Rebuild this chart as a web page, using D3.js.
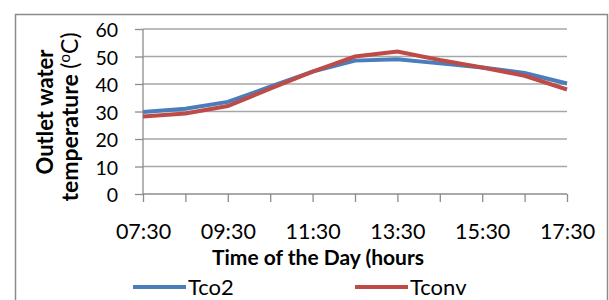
<!DOCTYPE html>
<html>
<head>
<meta charset="utf-8">
<script src="https://cdn.jsdelivr.net/npm/d3@7"></script>
<style>
  body { margin: 0; background: #fff; }
  text { font-family: Lato, 'Open Sans', sans-serif; }
</style>
</head>
<body>
<div id="chart"></div>
<script>
// hourly readings, 07:30 .. 17:30
const times = ['07:30', '08:30', '09:30', '10:30', '11:30', '12:30', '13:30', '14:30', '15:30', '16:30', '17:30']
const tco2 = [29.8, 31, 33.5, 39, 44.5, 48.5, 49, 47.5, 46, 44, 40.2]
const tconv = [28.2, 29.3, 32, 38.3, 44.5, 50, 51.8, 48.7, 46, 43, 38]
const yTicks = [0, 10, 20, 30, 40, 50, 60]
const xLabels = ['07:30', '09:30', '11:30', '13:30', '15:30', '17:30']

const width = 609, height = 300
const margin = { left: 143, right: 42, top: 29, bottom: 106 }
const font = "Lato, 'Open Sans', sans-serif"

const svg = d3.select('#chart').append('svg')
    .attr('width', width)
    .attr('height', height)

svg.append('rect')
    .attr('x', 15.5).attr('y', 14.5)
    .attr('width', 592).attr('height', 300)
    .attr('fill', 'none')
    .attr('stroke', '#8a8a8a')
    .attr('stroke-width', 1.5)

const x = d3.scalePoint()
    .domain(times)
    .range([margin.left, width - margin.right])

const y = d3.scaleLinear()
    .domain([0, 60])
    .range([height - margin.bottom, margin.top])

// gridlines
svg.append('g')
    .selectAll('line')
    .data(yTicks.filter(d => d > 0))
    .join('line')
      .attr('x1', margin.left).attr('x2', width - margin.right)
      .attr('y1', d => y(d)).attr('y2', d => y(d))
      .attr('stroke', '#a6a6a6')
      .attr('stroke-width', 1.3)

const yAxis = svg.append('g')
    .attr('transform', `translate(${margin.left},0)`)
    .call(d3.axisLeft(y).tickValues(yTicks).tickSize(8).tickPadding(17))
yAxis.selectAll('line, path').attr('stroke', '#8c8c8c').attr('stroke-width', 1.3)
yAxis.select('.domain').attr('d', `M0,${y(60)}V${y(0)}`)
yAxis.selectAll('text').attr('font-size', 19.5).attr('fill', '#000')
    .attr('dy', '0.4em')
    .style('font-family', font)

const xAxis = svg.append('g')
    .attr('transform', `translate(0,${y(0)})`)
    .call(d3.axisBottom(x).tickSize(8).tickPadding(37)
      .tickFormat(d => xLabels.includes(d) ? d : ''))
xAxis.selectAll('line, path').attr('stroke', '#8c8c8c').attr('stroke-width', 1.3)
xAxis.select('.domain').attr('d', `M${margin.left},0H${width - margin.right}`)
xAxis.selectAll('text').attr('font-size', 21.5).attr('fill', '#000')
    .attr('dy', 0)
    .style('font-family', font)

const line = d3.line()
    .x((d, i) => x(times[i]))
    .y(d => y(d))

svg.append('path')
    .datum(tco2)
    .attr('d', line)
    .attr('fill', 'none')
    .attr('stroke', '#4a7ebb')
    .attr('stroke-width', 4)

svg.append('path')
    .datum(tconv)
    .attr('d', line)
    .attr('fill', 'none')
    .attr('stroke', '#be4b48')
    .attr('stroke-width', 4)

// axis titles
svg.append('text')
    .attr('transform', 'translate(53,112) rotate(-90)')
    .attr('text-anchor', 'middle')
    .attr('font-size', 22)
    .attr('font-weight', 'bold')
    .text('Outlet water')

const yTitle = svg.append('text')
    .attr('transform', 'translate(78,117) rotate(-90)')
    .attr('text-anchor', 'middle')
    .attr('font-size', 23)
yTitle.append('tspan').attr('font-weight', 'bold').text('temperature ')
yTitle.append('tspan').text('(')
yTitle.append('tspan').attr('font-size', 15).attr('dy', -8).text('o')
yTitle.append('tspan').attr('dy', 8).text('C)')

svg.append('text')
    .attr('x', 318).attr('y', 265)
    .attr('text-anchor', 'middle')
    .attr('font-size', 21)
    .attr('font-weight', 'bold')
    .text('Time of the Day (hours')

// legend
const legend = [
  { name: 'Tco2', color: '#4a7ebb', x: 133 },
  { name: 'Tconv', color: '#be4b48', x: 355 }
]
const lg = svg.append('g').selectAll('g').data(legend).join('g')
    .attr('transform', d => `translate(${d.x},287)`)
lg.append('line')
    .attr('x1', 0).attr('x2', 53)
    .attr('stroke', d => d.color)
    .attr('stroke-width', 4)
lg.append('text')
    .attr('x', 55).attr('y', 8)
    .attr('font-size', 22)
    .text(d => d.name)
</script>
</body>
</html>
